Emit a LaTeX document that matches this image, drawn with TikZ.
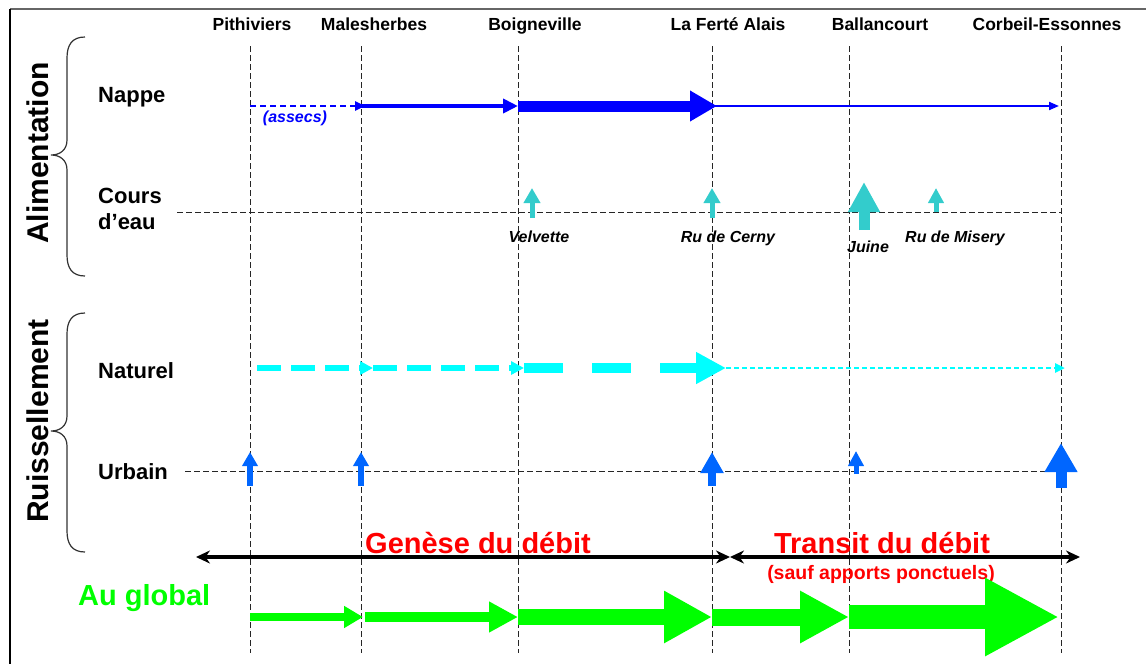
\documentclass[tikz,border=0pt]{standalone}
\usepackage{fontspec}
\setmainfont{Liberation Sans}
\usetikzlibrary{arrows.meta,positioning}
\definecolor{nappebleu}{HTML}{0000FF}
\definecolor{coursturq}{HTML}{33CCCC}
\definecolor{natcyan}{HTML}{00FFFF}
\definecolor{urbbleu}{HTML}{0066FF}
\definecolor{globvert}{HTML}{00FF00}
\definecolor{rouge}{HTML}{FF0000}

\tikzset{
  fleche/.style n args={3}{line width=#1,-{Triangle[length=#2,width=#3]}},
  pointe/.tip={Stealth[length=14pt,width=13pt]},
  ville/.style={font=\fontsize{17.5}{20}\selectfont\bfseries,anchor=base},
  ligne/.style={font=\fontsize{22}{26}\selectfont\bfseries,anchor=base west,align=left,inner sep=0pt},
  riviere/.style={font=\fontsize{16}{19}\selectfont\bfseries\itshape,anchor=base},
  titre/.style={font=\fontsize{30}{36}\selectfont\bfseries,rotate=90,anchor=base},
  gros/.style={font=\fontsize{29}{34}\selectfont\bfseries,anchor=base},
  repere/.style={black!85,line width=0.9pt,dash pattern=on 6pt off 3pt},
}

\begin{document}
\begin{tikzpicture}[x=1pt,y=-1pt]
\useasboundingbox (0,0) rectangle (1146,664);
% cadre
\draw[black!60,line width=1.5pt] (1146,9) -- (10,9);
\draw[line width=1.2pt] (10,9) -- (10,664);

% villes
\node[ville] (pith) at (252,30) {Pithiviers};
\node[ville] (male) at (374,30) {Malesherbes};
\node[ville] (boig) at (535,30) {Boigneville};
\node[ville] (ferte) at (728,30) {La Ferté Alais};
\node[ville] (ballan) at (880,30) {Ballancourt};
\node[ville] (corbeil) at (1047,30) {Corbeil-Essonnes};

\foreach \n/\x in {P/250,M/361,B/518,F/712,A/849,C/1061}{
  \draw[repere] (\x,46) -- (\x,653);
  \coordinate (\n-nap) at (\x,106);
  \coordinate (\n-nat) at (\x,368);
  \coordinate (\n-glo) at (\x,617);
}
\draw[repere] (177,212) -- (1061,212);
\draw[repere] (185,471) -- (1061,471);

% accolades
\node[titre] (alim) at (48,153) {Alimentation};
\node[titre] (ruis) at (48,421) {Ruissellement};
\foreach \dy in {0,276}
  \draw[black!80,line width=1.2pt] (85,37+\dy) .. controls (72,37+\dy) and (67,45+\dy) .. (67,58+\dy)
    -- (67,140+\dy) .. controls (67,150+\dy) and (60,155+\dy) .. (51,155+\dy)
    .. controls (60,155+\dy) and (67,160+\dy) .. (67,170+\dy)
    -- (67,255+\dy) .. controls (67,268+\dy) and (72,276+\dy) .. (85,276+\dy);

\node[ligne] (nappe) at (98,102) {Nappe};
\node[ligne] (cours) at (98,229) {Cours\\d’eau};
\node[ligne] (naturel) at (98,378) {Naturel};
\node[ligne] (urbain) at (98,479) {Urbain};

% nappe
\draw[nappebleu,fleche={2.5pt}{10pt}{9pt},dash pattern=on 6pt off 4pt] (P-nap) -- ([xshift=4]M-nap);
\draw[nappebleu,fleche={4.5pt}{15pt}{14pt}] (M-nap) -- (B-nap);
\draw[nappebleu,fleche={11pt}{27pt}{29pt}] (B-nap) -- ([xshift=5]F-nap);
\draw[nappebleu,fleche={2pt}{10pt}{8pt}] (F-nap) -- ([xshift=-2]C-nap);
\node[riviere,text=nappebleu] (assecs) at (295,122) {(assecs)};

% cours d'eau
\foreach \nm/\x/\yb/\yt/\s/\l/\w in {velv/532/218/188/5pt/15pt/16pt,cern/712/218/188/5pt/15pt/16pt,
    juin/864/230/182/11pt/30pt/30pt,mise/936/212/188/5pt/15pt/15pt}{
  \coordinate (\nm-b) at (\x,\yb);
  \coordinate (\nm-h) at (\x,\yt);
  \draw[coursturq,fleche={\s}{\l}{\w}] (\nm-b) -- (\nm-h);
}
\node[riviere] (velvette) at (539,242) {Velvette};
\node[riviere] (cerny) at (728,242) {Ru de Cerny};
\node[riviere] (juine) at (868,252) {Juine};
\node[riviere] (misery) at (955,242) {Ru de Misery};

% ruissellement naturel
\draw[natcyan,fleche={6pt}{13pt}{13pt},dash pattern=on 24pt off 10pt] ([xshift=7]P-nat) -- ([xshift=12]M-nat);
\draw[natcyan,fleche={6pt}{13pt}{13pt},dash pattern=on 24pt off 10pt] ([xshift=12]M-nat) -- ([xshift=6]B-nat);
\draw[natcyan,fleche={10pt}{30pt}{30pt},dash pattern=on 39pt off 29pt] ([xshift=6]B-nat) -- ([xshift=14]F-nat);
\draw[natcyan,fleche={2.5pt}{10pt}{9pt},dash pattern=on 5pt off 3pt] ([xshift=14]F-nat) -- ([xshift=4]C-nat);

% ruissellement urbain
\foreach \nm/\x/\yb/\yt/\s/\l/\w in {u1/250/486/452/5.5pt/14pt/15pt,u2/361/486/452/5.5pt/14pt/15pt,
    u3/712/486/452/8pt/21pt/22pt,u4/856/474/451/5pt/15pt/15pt,u5/1061/488/443/11pt/29pt/31pt}{
  \coordinate (\nm-b) at (\x,\yb);
  \coordinate (\nm-h) at (\x,\yt);
  \draw[urbbleu,fleche={\s}{\l}{\w}] (\nm-b) -- (\nm-h);
}

% genese / transit
\coordinate (gen-g) at (196,557);
\coordinate (milieu) at (730,557);
\coordinate (tra-d) at (1080,557);
\draw[line width=3.8pt,pointe-pointe] (gen-g) -- (milieu);
\draw[line width=3.8pt,pointe-pointe] (milieu) -- (tra-d);
\node[gros,text=rouge] (genese) at (478,553) {Genèse du débit};
\node[gros,text=rouge] (transit) at (882,553) {Transit du débit};
\node[font=\fontsize{19.5}{23}\selectfont\bfseries,text=rouge,anchor=base] (sauf) at (881,579) {(sauf apports ponctuels)};

% au global
\node[gros,text=globvert,anchor=base west,inner sep=0pt] (global) at (78,605) {Au global};
\draw[globvert,fleche={8pt}{19pt}{21pt}] (P-glo) -- ([xshift=2]M-glo);
\draw[globvert,fleche={10pt}{29pt}{29pt}] ([xshift=4]M-glo) -- (B-glo);
\draw[globvert,fleche={16pt}{48pt}{49pt}] (B-glo) -- (F-glo);
\draw[globvert,fleche={17pt}{49pt}{49pt}] (F-glo) -- (A-glo);
\draw[globvert,fleche={24pt}{74pt}{73pt}] (A-glo) -- ([xshift=-2]C-glo);
\end{tikzpicture}
\end{document}
